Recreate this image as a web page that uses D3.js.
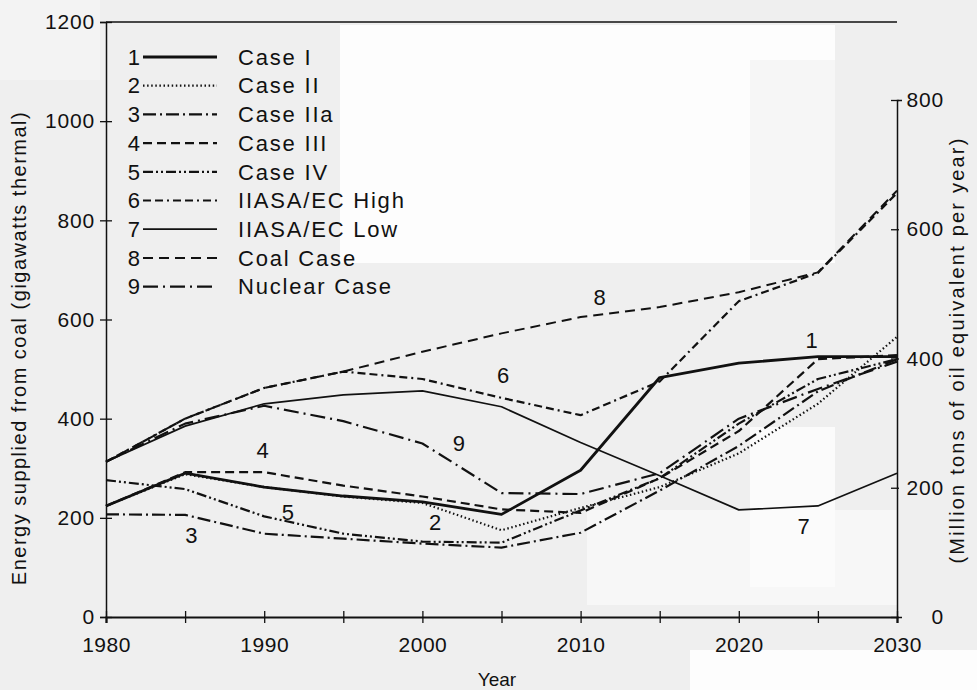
<!DOCTYPE html>
<html>
<head>
<meta charset="utf-8">
<script src="https://cdn.jsdelivr.net/npm/d3@7"></script>
<style>
body { margin:0; background:#efefef; }
text { font-family:"Liberation Sans", Arial, sans-serif; fill:#111; }
</style>
</head>
<body>
<script>
// years on the x axis, one value every 5 years
var years = [1980,1985,1990,1995,2000,2005,2010,2015,2020,2025,2030];

// coal supply, gigawatts thermal
var caseI      = [224,290,262,244,232,207,296,483,512,525,525];
var caseII     = [224,288,262,243,230,175,220,262,330,430,565];
var caseIIa    = [207,206,168,158,148,140,170,255,345,455,520];
var caseIII    = [224,292,292,265,243,217,210,280,375,520,528];
var caseIV     = [276,258,203,168,152,150,215,280,390,480,520];
var iiasaHigh  = [313,400,462,495,480,442,407,475,637,694,855];
var iiasaLow   = [313,385,430,448,456,424,352,285,216,224,290];
var coalCase   = [313,400,462,495,535,572,605,625,655,695,860];
var nuclear    = [313,390,426,395,350,250,248,290,400,460,515];

var seriesNums  = ['1','2','3','4','5','6','7','8','9'];
var seriesNames = ['Case I','Case II','Case IIa','Case III','Case IV',
                   'IIASA/EC High','IIASA/EC Low','Coal Case','Nuclear Case'];

// where the number tags sit on the chart (year, GW)
var tagYears  = [2024.6,2000.8,1985.4,1989.9,1991.5,2005.1,2024.1,2011.2,2002.3];
var tagValues = [559,190,165,337,212,488,182,645,351];

var leftTicks  = [0,200,400,600,800,1000,1200];
var rightTicks = [0,200,400,600,800];
var yearTicks  = [1980,1985,1990,1995,2000,2005,2010,2015,2020,2025,2030];
var yearLabels = [1980,1990,2000,2010,2020,2030];

var allSeries = [caseI,caseII,caseIIa,caseIII,caseIV,iiasaHigh,iiasaLow,coalCase,nuclear];
var dashes = ['none','1.5,2.6','13,4,2,4','9,5','10,3,2,3,2,3','8,4,8,4,2,4','none','10,6','15,5,2,5'];
var widths = [2.8,2.2,2.2,2.2,2.2,2.2,1.7,2,2.2];

var width = 977, height = 690;

var svg = d3.select('body')
            .append('svg')
            .attr('width', width)
            .attr('height', height)

// scan-like background patches
var patches = [[340,25,495,238,'#fdfdfd'],[750,60,85,200,'#f6f6f6'],[587,510,310,95,'#f7f7f7'],
               [750,427,85,160,'#fbfbfb'],[690,650,287,40,'#fdfdfd'],[0,0,100,80,'#f3f3f3']];
svg.selectAll('rect.patch')
   .data(patches)
   .enter()
   .append('rect')
   .attr('class','patch')
   .attr('x',function(d){return d[0];})
   .attr('y',function(d){return d[1];})
   .attr('width',function(d){return d[2];})
   .attr('height',function(d){return d[3];})
   .attr('fill',function(d){return d[4];})

var x = d3.scaleLinear().domain([1980,2030]).range([106,897]);
var y = d3.scaleLinear().domain([0,1200]).range([617,22]);
var yR = d3.scaleLinear().domain([0,800]).range([617,100]);

// frame top
svg.append('line')
   .attr('x1',x(1980)).attr('x2',x(2030))
   .attr('y1',y(1200)).attr('y2',y(1200))
   .attr('stroke','#111').attr('stroke-width',1.5)

var gl = svg.append('g')
            .attr('transform','translate('+x(1980)+',0)')
            .call(d3.axisLeft(y).tickValues(leftTicks).tickSize(6).tickPadding(5).tickFormat(d3.format('d')))
gl.selectAll('.tick line').attr('x2',-6).attr('x1',6)
gl.selectAll('.tick text').style('font-size','21px').style('letter-spacing','0.8px')

var gr = svg.append('g')
            .attr('transform','translate('+x(2030)+',0)')
            .call(d3.axisRight(yR).tickValues(rightTicks).tickSize(5).tickPadding(5))
gr.selectAll('.tick line').attr('x1',-6).attr('x2',2)
gr.selectAll('.tick text').style('font-size','21px').style('letter-spacing','0.8px')
  .attr('text-anchor','end').attr('x',47)

var gb = svg.append('g')
            .attr('transform','translate(0,'+y(0)+')')
            .call(d3.axisBottom(x).tickValues(yearTicks).tickSize(6).tickPadding(14)
                  .tickFormat(function(d){return yearLabels.indexOf(d) >= 0 ? d : '';}))
gb.selectAll('.tick line').attr('y1',-6).attr('y2',6)
gb.selectAll('.tick text').style('font-size','21px').style('letter-spacing','0.5px')

svg.selectAll('.domain').attr('stroke','#111').attr('stroke-width',1.5)
gb.select('.domain').attr('stroke-width',2.2)
svg.selectAll('.tick line').attr('stroke','#111').attr('stroke-width',1.3)

// axis titles
svg.append('text')
   .attr('transform','translate(26,348) rotate(-90)')
   .attr('text-anchor','middle')
   .style('font-size','20px')
   .style('letter-spacing','1.5px')
   .text('Energy supplied from coal (gigawatts thermal)')

svg.append('text')
   .attr('transform','translate(964,350) rotate(-90)')
   .attr('text-anchor','middle')
   .style('font-size','20px')
   .style('letter-spacing','2.2px')
   .text('(Million tons of oil equivalent per year)')

svg.append('text')
   .attr('x',497).attr('y',686)
   .attr('text-anchor','middle')
   .style('font-size','19px')
   .text('Year')

// lines
var line = d3.line()
             .x(function(d,i){return x(years[i]);})
             .y(function(d){return y(d);});

svg.selectAll('path.series')
   .data(allSeries)
   .enter()
   .append('path')
   .attr('class','series')
   .attr('fill','none')
   .attr('stroke','#111')
   .attr('stroke-width',function(d,i){return widths[i];})
   .attr('stroke-dasharray',function(d,i){return dashes[i];})
   .attr('stroke-linejoin','round')
   .attr('d',line)

// number tags on chart
svg.selectAll('text.tag')
   .data(seriesNums)
   .enter()
   .append('text')
   .attr('class','tag')
   .attr('x',function(d,i){return x(tagYears[i]);})
   .attr('y',function(d,i){return y(tagValues[i]);})
   .attr('dy','0.35em')
   .attr('text-anchor','middle')
   .style('font-size','22px')
   .text(function(d){return d;})

// legend
var leg = svg.selectAll('g.leg')
             .data(seriesNames)
             .enter()
             .append('g')
             .attr('class','leg')
             .attr('transform',function(d,i){return 'translate(0,'+(57+i*28.7)+')';})

leg.append('text')
   .attr('x',140).attr('dy','0.35em')
   .attr('text-anchor','end')
   .style('font-size','22px')
   .text(function(d,i){return seriesNums[i];})

leg.append('line')
   .attr('x1',143).attr('x2',217)
   .attr('stroke','#111')
   .attr('stroke-width',function(d,i){return widths[i];})
   .attr('stroke-dasharray',function(d,i){return dashes[i];})

leg.append('text')
   .attr('x',238).attr('dy','0.35em')
   .style('font-size','22px')
   .style('letter-spacing','1.8px')
   .text(function(d){return d;})
</script>
</body>
</html>
